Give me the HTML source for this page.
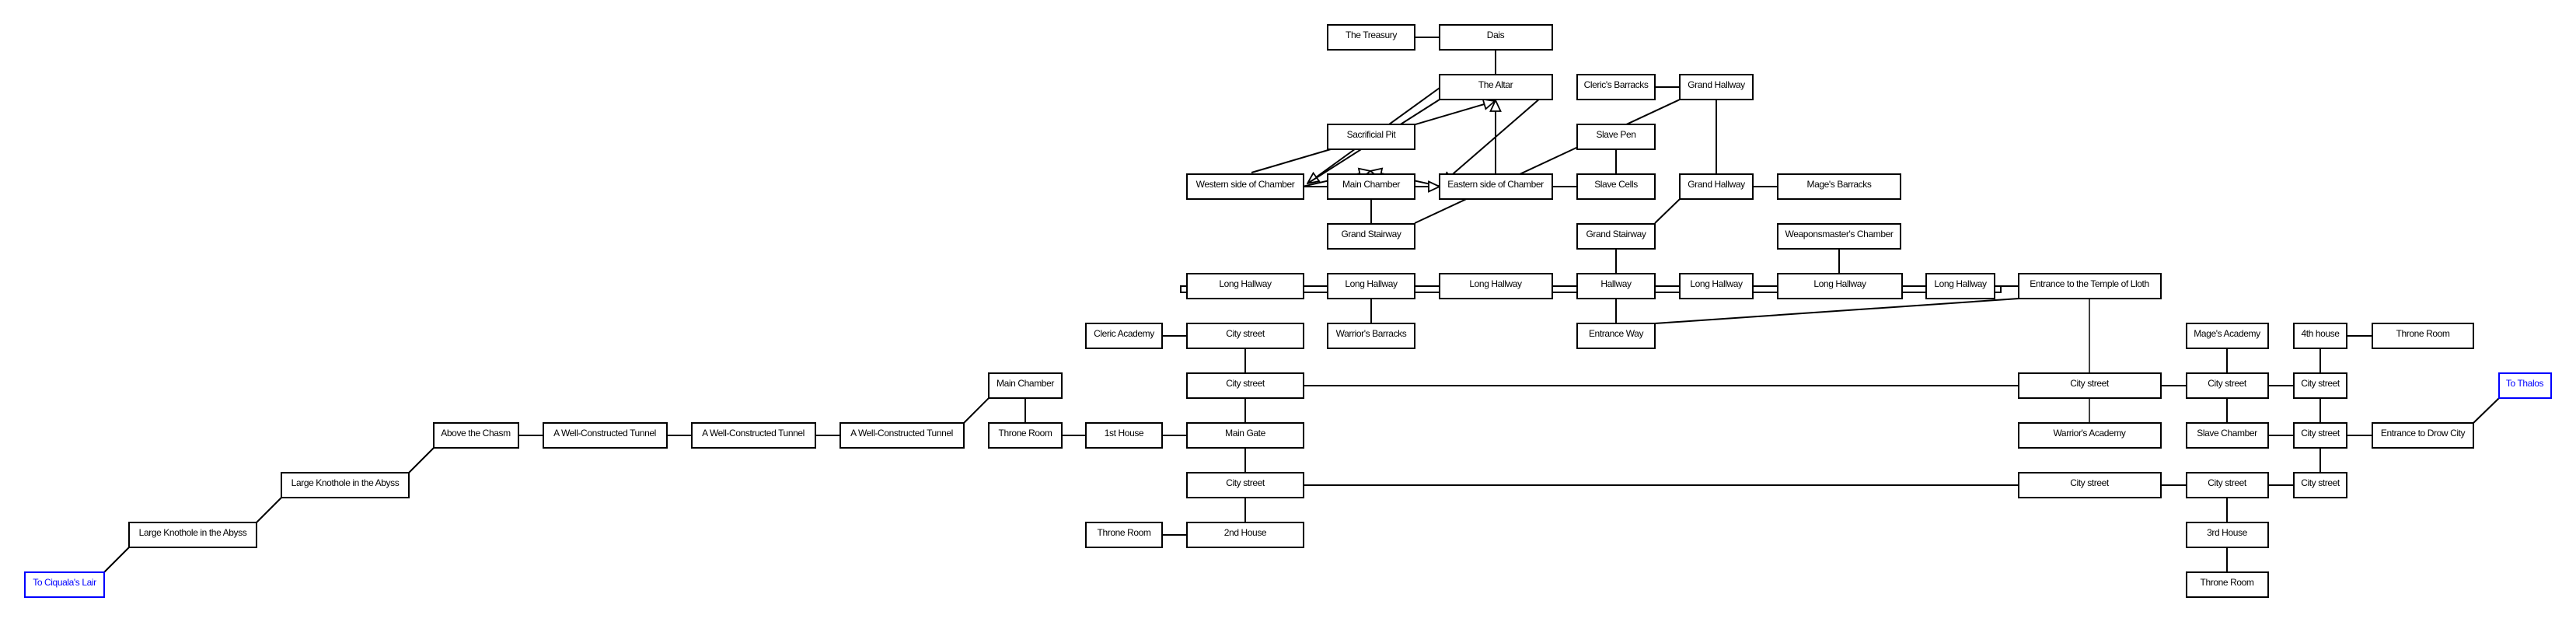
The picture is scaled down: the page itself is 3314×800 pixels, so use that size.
<!DOCTYPE html>
<html><head><meta charset="utf-8"><style>
html,body{margin:0;padding:0;background:#fff}
svg{display:block}
text{font-family:"Liberation Sans",sans-serif;font-size:12px;text-anchor:middle;fill:#000;letter-spacing:-0.4px}
.b rect{fill:#fff;stroke:#000;stroke-width:2}
.l line,.l polyline{stroke:#000;stroke-width:2;fill:none}
</style></head><body>
<svg width="3314" height="800" viewBox="0 0 3314 800" xmlns="http://www.w3.org/2000/svg">
<defs>
<marker id="a" viewBox="0 0 16 16" refX="15" refY="8" markerWidth="16" markerHeight="16" markerUnits="userSpaceOnUse" orient="auto">
<path d="M1,1.5 L15,8 L1,14.5 Z" fill="#fff" stroke="#000" stroke-width="1.8"/></marker>
</defs>
<g class="l">
<line x1="134" y1="736" x2="166" y2="704"/>
<line x1="330" y1="672" x2="362" y2="640"/>
<line x1="526" y1="608" x2="558" y2="576"/>
<line x1="667" y1="560" x2="699" y2="560"/>
<line x1="858" y1="560" x2="890" y2="560"/>
<line x1="1049" y1="560" x2="1081" y2="560"/>
<line x1="1240" y1="544" x2="1272" y2="512"/>
<line x1="1319" y1="512" x2="1319" y2="544"/>
<line x1="1366" y1="560" x2="1397" y2="560"/>
<line x1="1495" y1="560" x2="1527" y2="560"/>
<line x1="1495" y1="688" x2="1527" y2="688"/>
<line x1="1495" y1="432" x2="1527" y2="432"/>
<line x1="1602" y1="448" x2="1602" y2="672"/>
<line x1="1677" y1="496" x2="2597" y2="496"/>
<line x1="1677" y1="624" x2="2597" y2="624"/>
<line x1="1677" y1="368" x2="2597" y2="368"/>
<polyline points="2566,368 2574,368 2574,376 1519,376 1519,368 1527,368"/>
<line x1="1764" y1="384" x2="1764" y2="416"/>
<line x1="2079" y1="288" x2="2079" y2="416"/>
<line x1="2366" y1="320" x2="2366" y2="352"/>
<line x1="2129" y1="416" x2="2597" y2="384"/>
<line x1="2688" y1="384" x2="2688" y2="480" style="stroke-width:1.5"/>
<line x1="2688" y1="512" x2="2688" y2="544" style="stroke-width:1.5"/>
<line x1="1820" y1="48" x2="1852" y2="48"/>
<line x1="1924" y1="64" x2="1924" y2="96"/>
<line x1="2129" y1="112" x2="2161" y2="112"/>
<line x1="2208" y1="128" x2="2208" y2="224"/>
<line x1="2255" y1="240" x2="2287" y2="240"/>
<line x1="2079" y1="192" x2="2079" y2="224"/>
<line x1="1997" y1="240" x2="2029" y2="240"/>
<line x1="1677" y1="240" x2="1708" y2="240"/>
<line x1="1764" y1="256" x2="1764" y2="288"/>
<line x1="1852" y1="113" x2="1682" y2="236" marker-end="url(#a)"/>
<line x1="1852" y1="128" x2="1682" y2="236"/>
<line x1="1610" y1="222" x2="1923" y2="130" marker-end="url(#a)"/>
<line x1="1610" y1="255" x2="1763" y2="220" marker-end="url(#a)"/>
<line x1="1923" y1="255" x2="1763" y2="220" marker-end="url(#a)"/>
<line x1="1997" y1="113" x2="1855" y2="236" marker-end="url(#a)"/>
<line x1="1820" y1="240" x2="1852" y2="240" marker-end="url(#a)"/>
<line x1="1924" y1="224" x2="1924" y2="129" marker-end="url(#a)"/>
<line x1="1820" y1="287" x2="2161" y2="128"/>
<line x1="2129" y1="287" x2="2161" y2="256"/>
<line x1="2780" y1="496" x2="2813" y2="496"/>
<line x1="2918" y1="496" x2="2951" y2="496"/>
<line x1="2780" y1="624" x2="2813" y2="624"/>
<line x1="2918" y1="624" x2="2951" y2="624"/>
<line x1="2865" y1="448" x2="2865" y2="544"/>
<line x1="2865" y1="640" x2="2865" y2="736"/>
<line x1="2985" y1="448" x2="2985" y2="608"/>
<line x1="3019" y1="432" x2="3052" y2="432"/>
<line x1="2918" y1="560" x2="3052" y2="560"/>
<line x1="3182" y1="544" x2="3215" y2="512"/>
</g>
<g class="b">
<rect x="32" y="736" width="102" height="32" style="stroke:#00f"/>
<rect x="166" y="672" width="164" height="32"/>
<rect x="362" y="608" width="164" height="32"/>
<rect x="558" y="544" width="109" height="32"/>
<rect x="699" y="544" width="159" height="32"/>
<rect x="890" y="544" width="159" height="32"/>
<rect x="1081" y="544" width="159" height="32"/>
<rect x="1272" y="480" width="94" height="32"/>
<rect x="1272" y="544" width="94" height="32"/>
<rect x="1397" y="544" width="98" height="32"/>
<rect x="1397" y="672" width="98" height="32"/>
<rect x="1397" y="416" width="98" height="32"/>
<rect x="1527" y="416" width="150" height="32"/>
<rect x="1527" y="480" width="150" height="32"/>
<rect x="1527" y="544" width="150" height="32"/>
<rect x="1527" y="608" width="150" height="32"/>
<rect x="1527" y="672" width="150" height="32"/>
<rect x="1708" y="416" width="112" height="32"/>
<rect x="2029" y="416" width="100" height="32"/>
<rect x="1527" y="352" width="150" height="32"/>
<rect x="1708" y="352" width="112" height="32"/>
<rect x="1852" y="352" width="145" height="32"/>
<rect x="2029" y="352" width="100" height="32"/>
<rect x="2161" y="352" width="94" height="32"/>
<rect x="2287" y="352" width="160" height="32"/>
<rect x="2478" y="352" width="88" height="32"/>
<rect x="2597" y="352" width="183" height="32"/>
<rect x="2287" y="288" width="158" height="32"/>
<rect x="1708" y="288" width="112" height="32"/>
<rect x="2029" y="288" width="100" height="32"/>
<rect x="1527" y="224" width="150" height="32"/>
<rect x="1708" y="224" width="112" height="32"/>
<rect x="1852" y="224" width="145" height="32"/>
<rect x="2029" y="224" width="100" height="32"/>
<rect x="2161" y="224" width="94" height="32"/>
<rect x="2287" y="224" width="158" height="32"/>
<rect x="1708" y="160" width="112" height="32"/>
<rect x="2029" y="160" width="100" height="32"/>
<rect x="1852" y="96" width="145" height="32"/>
<rect x="2029" y="96" width="100" height="32"/>
<rect x="2161" y="96" width="94" height="32"/>
<rect x="1708" y="32" width="112" height="32"/>
<rect x="1852" y="32" width="145" height="32"/>
<rect x="2813" y="416" width="105" height="32"/>
<rect x="2951" y="416" width="68" height="32"/>
<rect x="3052" y="416" width="130" height="32"/>
<rect x="2597" y="480" width="183" height="32"/>
<rect x="2813" y="480" width="105" height="32"/>
<rect x="2951" y="480" width="68" height="32"/>
<rect x="3215" y="480" width="67" height="32" style="stroke:#00f"/>
<rect x="2597" y="544" width="183" height="32"/>
<rect x="2813" y="544" width="105" height="32"/>
<rect x="2951" y="544" width="68" height="32"/>
<rect x="3052" y="544" width="130" height="32"/>
<rect x="2597" y="608" width="183" height="32"/>
<rect x="2813" y="608" width="105" height="32"/>
<rect x="2951" y="608" width="68" height="32"/>
<rect x="2813" y="672" width="105" height="32"/>
<rect x="2813" y="736" width="105" height="32"/>
</g>
<g>
<text x="83" y="753" style="fill:#00f">To Ciquala's Lair</text>
<text x="248" y="689">Large Knothole in the Abyss</text>
<text x="444" y="625">Large Knothole in the Abyss</text>
<text x="612" y="561">Above the Chasm</text>
<text x="778" y="561">A Well-Constructed Tunnel</text>
<text x="969" y="561">A Well-Constructed Tunnel</text>
<text x="1160" y="561">A Well-Constructed Tunnel</text>
<text x="1319" y="497">Main Chamber</text>
<text x="1319" y="561">Throne Room</text>
<text x="1446" y="561">1st House</text>
<text x="1446" y="689">Throne Room</text>
<text x="1446" y="433">Cleric Academy</text>
<text x="1602" y="433">City street</text>
<text x="1602" y="497">City street</text>
<text x="1602" y="561">Main Gate</text>
<text x="1602" y="625">City street</text>
<text x="1602" y="689">2nd House</text>
<text x="1764" y="433">Warrior's Barracks</text>
<text x="2079" y="433">Entrance Way</text>
<text x="1602" y="369">Long Hallway</text>
<text x="1764" y="369">Long Hallway</text>
<text x="1924" y="369">Long Hallway</text>
<text x="2079" y="369">Hallway</text>
<text x="2208" y="369">Long Hallway</text>
<text x="2367" y="369">Long Hallway</text>
<text x="2522" y="369">Long Hallway</text>
<text x="2688" y="369">Entrance to the Temple of Lloth</text>
<text x="2366" y="305">Weaponsmaster's Chamber</text>
<text x="1764" y="305">Grand Stairway</text>
<text x="2079" y="305">Grand Stairway</text>
<text x="1602" y="241">Western side of Chamber</text>
<text x="1764" y="241">Main Chamber</text>
<text x="1924" y="241">Eastern side of Chamber</text>
<text x="2079" y="241">Slave Cells</text>
<text x="2208" y="241">Grand Hallway</text>
<text x="2366" y="241">Mage's Barracks</text>
<text x="1764" y="177">Sacrificial Pit</text>
<text x="2079" y="177">Slave Pen</text>
<text x="1924" y="113">The Altar</text>
<text x="2079" y="113">Cleric's Barracks</text>
<text x="2208" y="113">Grand Hallway</text>
<text x="1764" y="49">The Treasury</text>
<text x="1924" y="49">Dais</text>
<text x="2865" y="433">Mage's Academy</text>
<text x="2985" y="433">4th house</text>
<text x="3117" y="433">Throne Room</text>
<text x="2688" y="497">City street</text>
<text x="2865" y="497">City street</text>
<text x="2985" y="497">City street</text>
<text x="3248" y="497" style="fill:#00f">To Thalos</text>
<text x="2688" y="561">Warrior's Academy</text>
<text x="2865" y="561">Slave Chamber</text>
<text x="2985" y="561">City street</text>
<text x="3117" y="561">Entrance to Drow City</text>
<text x="2688" y="625">City street</text>
<text x="2865" y="625">City street</text>
<text x="2985" y="625">City street</text>
<text x="2865" y="689">3rd House</text>
<text x="2865" y="753">Throne Room</text>
</g>
</svg>
</body></html>
